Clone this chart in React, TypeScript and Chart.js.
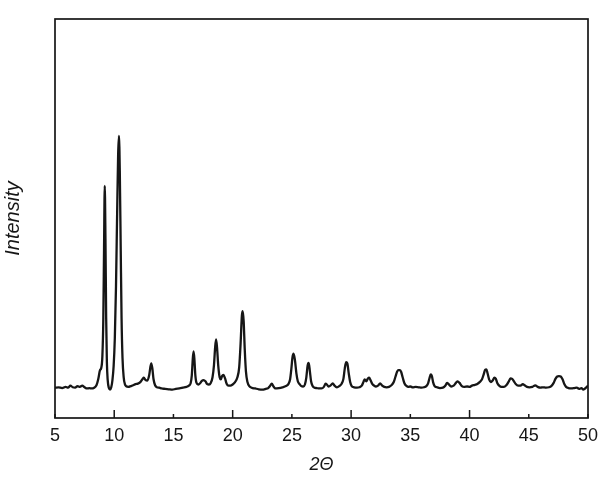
import React, { useEffect, useRef } from "react";
import { Chart, registerables } from "chart.js";

Chart.register(...registerables);

const twoTheta = [
  5.0, 5.3, 5.6, 5.9, 6.1, 6.3, 6.5, 6.7, 6.9, 7.1, 7.3, 7.5, 7.7, 7.9, 8.1, 8.3, 8.5, 8.65, 8.8, 8.9,
  9.0, 9.08, 9.14, 9.2, 9.26, 9.32, 9.38, 9.45, 9.55, 9.65, 9.75, 9.85, 9.95, 10.05, 10.15, 10.25, 10.33, 10.4, 10.47, 10.55,
  10.62, 10.7, 10.8, 10.9, 11.0, 11.2, 11.4, 11.6, 11.8, 12.0, 12.2, 12.4, 12.5, 12.65, 12.8, 12.95, 13.05, 13.13, 13.22, 13.32,
  13.45, 13.6, 13.8, 14.0, 14.3, 14.6, 14.9, 15.2, 15.5, 15.8, 16.1, 16.3, 16.45, 16.55, 16.63, 16.7, 16.77, 16.85, 16.95, 17.1,
  17.25, 17.4, 17.55, 17.7, 17.85, 18.0, 18.15, 18.3, 18.42, 18.52, 18.6, 18.68, 18.78, 18.9, 19.0, 19.1, 19.22, 19.35, 19.5, 19.65,
  19.8, 20.0, 20.2, 20.4, 20.55, 20.67, 20.78, 20.85, 20.93, 21.02, 21.12, 21.25, 21.4, 21.6, 21.9, 22.2, 22.5, 22.8, 23.0, 23.15,
  23.3, 23.45, 23.6, 23.9, 24.2, 24.5, 24.7, 24.85, 24.95, 25.05, 25.14, 25.25, 25.38, 25.5, 25.65, 25.8, 25.95, 26.1, 26.22, 26.33,
  26.42, 26.52, 26.62, 26.75, 26.9, 27.1, 27.3, 27.5, 27.7, 27.85, 27.95, 28.1, 28.25, 28.45, 28.6, 28.8, 29.0, 29.2, 29.35, 29.47,
  29.58, 29.68, 29.8, 29.92, 30.05, 30.25, 30.5, 30.7, 30.9, 31.05, 31.15, 31.28, 31.42, 31.52, 31.65, 31.8, 31.95, 32.1, 32.3, 32.45,
  32.6, 32.8, 33.0, 33.2, 33.4, 33.6, 33.75, 33.88, 34.0, 34.1, 34.22, 34.35, 34.5, 34.65, 34.85, 35.0, 35.2, 35.45, 35.7, 35.95,
  36.15, 36.35, 36.5, 36.62, 36.72, 36.82, 36.92, 37.05, 37.25, 37.5, 37.75, 37.95, 38.1, 38.25, 38.45, 38.65, 38.85, 39.0, 39.15, 39.35,
  39.55, 39.8, 40.0, 40.2, 40.45, 40.65, 40.85, 41.05, 41.2, 41.32, 41.42, 41.52, 41.65, 41.8, 41.95, 42.1, 42.22, 42.35, 42.5, 42.7,
  42.9, 43.1, 43.3, 43.45, 43.6, 43.75, 43.9, 44.1, 44.3, 44.5, 44.65, 44.85, 45.05, 45.3, 45.55, 45.75, 46.0, 46.2, 46.45, 46.7,
  46.9, 47.1, 47.25, 47.4, 47.55, 47.7, 47.85, 48.0, 48.15, 48.35, 48.6, 48.85, 49.05, 49.25, 49.45, 49.6, 49.75, 49.9, 50.0,
];

const intensity = [
  7.6, 7.7, 7.5, 7.8, 7.6, 8.1, 7.7, 7.6, 8.0, 7.8, 8.1, 7.7, 7.4, 7.5, 7.4, 7.6, 8.2, 9.7, 12.0, 12.5,
  15.5, 25.0, 42.0, 58.2, 45.0, 25.0, 14.0, 9.5, 7.5, 7.1, 7.7, 9.5, 13.0, 20.0, 33.0, 52.0, 66.0, 70.7, 62.0, 42.0,
  25.0, 15.0, 10.2, 8.5, 8.0, 7.8, 8.0, 8.2, 8.5, 8.6, 9.0, 9.8, 10.1, 9.5, 9.4, 10.7, 12.7, 13.7, 12.4, 9.7,
  8.2, 7.7, 7.6, 7.4, 7.3, 7.2, 7.1, 7.3, 7.4, 7.6, 7.8, 8.1, 8.7, 10.7, 14.7, 16.7, 14.7, 10.7, 8.8, 8.4,
  8.7, 9.3, 9.5, 9.2, 8.5, 8.4, 8.8, 10.2, 13.2, 17.7, 19.7, 17.7, 13.2, 10.2, 9.7, 10.5, 10.8, 10.0, 8.5, 8.1,
  8.1, 8.4, 9.0, 10.2, 12.7, 18.7, 25.7, 26.8, 24.2, 17.2, 11.7, 9.0, 8.0, 7.6, 7.4, 7.2, 7.1, 7.3, 7.5, 8.0,
  8.6, 7.9, 7.4, 7.5, 7.7, 8.0, 8.5, 9.7, 12.2, 15.2, 16.1, 14.7, 11.2, 9.2, 8.5, 8.0, 7.9, 8.4, 10.2, 13.2,
  13.8, 11.7, 9.2, 8.0, 7.6, 7.5, 7.4, 7.4, 7.8, 8.6, 8.4, 7.9, 8.1, 8.7, 8.1, 7.7, 8.0, 8.6, 9.8, 12.5,
  14.0, 13.7, 11.2, 9.0, 8.0, 7.7, 7.6, 7.7, 8.1, 9.1, 9.7, 9.2, 9.9, 10.1, 9.4, 8.5, 8.1, 7.9, 8.2, 8.7,
  8.2, 7.8, 7.7, 7.8, 8.2, 9.0, 10.4, 11.6, 12.0, 12.0, 11.6, 10.2, 8.7, 8.1, 7.8, 7.9, 7.7, 7.8, 7.7, 7.6,
  7.7, 8.0, 8.7, 10.0, 10.9, 10.5, 9.0, 8.0, 7.7, 7.5, 7.6, 8.1, 8.8, 8.4, 7.9, 8.1, 8.8, 9.2, 8.8, 8.0,
  7.8, 7.9, 7.8, 8.1, 8.3, 8.5, 9.0, 9.7, 11.0, 12.1, 12.2, 11.2, 9.7, 9.0, 9.4, 10.1, 9.8, 8.7, 8.1, 7.8,
  7.8, 8.2, 9.1, 9.9, 9.8, 9.2, 8.5, 8.1, 8.1, 8.5, 8.2, 7.8, 7.7, 7.8, 8.2, 7.8, 7.6, 7.7, 7.6, 7.7,
  8.0, 8.8, 9.8, 10.4, 10.5, 10.4, 9.7, 8.5, 7.8, 7.5, 7.4, 7.5, 7.6, 7.3, 7.5, 7.1, 7.4, 7.8, 8.1,
];

const xTickValues = [5, 10, 15, 20, 25, 30, 35, 40, 45, 50];
const xMajorTicks = [10, 20, 30, 40];
const xTitle = "2Θ";
const yTitle = "Intensity";

const FONT = "'Liberation Sans', Arial, sans-serif";
const INK = "#161616";

const framePlugin = {
  id: "frameTicks",
  afterDatasetsDraw(chart: any) {
    const { ctx, chartArea: a, scales } = chart;
    const x = scales.x;
    ctx.save();
    ctx.strokeStyle = INK;
    ctx.lineWidth = 1.7;
    ctx.strokeRect(a.left, a.top, a.right - a.left, a.bottom - a.top);
    ctx.lineWidth = 1.5;
    x.ticks.forEach((t: any) => {
      const px = x.getPixelForValue(t.value);
      const len = xMajorTicks.includes(t.value) ? 8 : 4;
      ctx.beginPath();
      ctx.moveTo(px, a.bottom);
      ctx.lineTo(px, a.bottom - len);
      ctx.stroke();
    });
    ctx.restore();
  },
};

export default function App() {
  const canvasRef = useRef<HTMLCanvasElement | null>(null);

  useEffect(() => {
    const canvas = canvasRef.current;
    if (!canvas) return;
    const points = twoTheta.map((t, i) => ({ x: t, y: intensity[i] }));
    const chart = new Chart(canvas, {
      type: "line",
      data: {
        datasets: [
          {
            data: points,
            borderColor: INK,
            borderWidth: 2.3,
            pointRadius: 0,
            fill: false,
            cubicInterpolationMode: "monotone",
          },
        ],
      },
      options: {
        responsive: false,
        animation: false,
        events: [],
        layout: { padding: { top: 19, right: 24, left: 0, bottom: 0 } },
        plugins: {
          legend: { display: false },
          tooltip: { enabled: false },
        },
        scales: {
          x: {
            type: "linear",
            min: 5,
            max: 50,
            afterBuildTicks: (scale: any) => {
              scale.ticks = xTickValues.map((v) => ({ value: v }));
            },
            afterFit: (scale: any) => {
              scale.height = 63;
            },
            ticks: {
              color: INK,
              font: { family: FONT, size: 18 },
              padding: 7,
              maxRotation: 0,
              autoSkip: false,
            },
            grid: { display: false, drawTicks: false },
            border: { display: false },
            title: {
              display: true,
              text: xTitle,
              color: INK,
              font: { family: FONT, size: 18, style: "italic" },
              padding: { top: 0, bottom: 5 },
            },
          },
          y: {
            type: "linear",
            min: 0,
            max: 100,
            afterFit: (scale: any) => {
              scale.width = 55;
            },
            ticks: { display: false },
            grid: { display: false, drawTicks: false },
            border: { display: false },
            title: {
              display: true,
              text: yTitle,
              color: INK,
              font: { family: FONT, size: 20, style: "italic" },
              padding: { top: 1, bottom: 0 },
            },
          },
        },
      },
      plugins: [framePlugin],
    });
    return () => chart.destroy();
  }, []);

  return (
    <div style={{ position: "fixed", left: 0, top: 0, width: 612, height: 481, background: "#fff" }}>
      <canvas ref={canvasRef} width={612} height={481} />
    </div>
  );
}
